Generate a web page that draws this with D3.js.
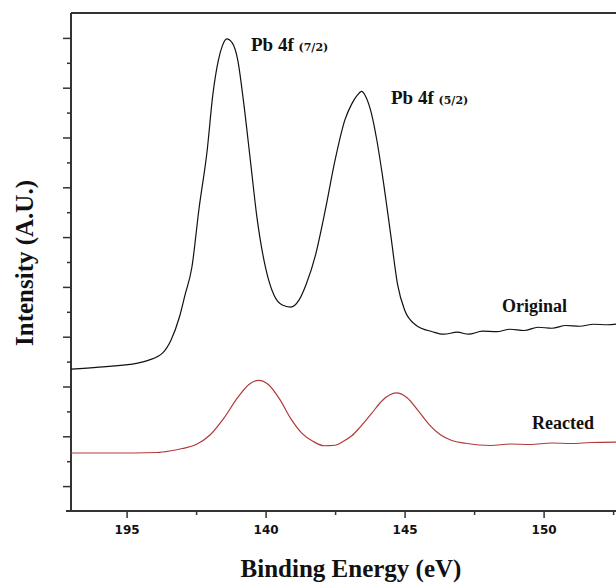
<!DOCTYPE html>
<html>
<head>
<meta charset="utf-8">
<script src="https://cdn.jsdelivr.net/npm/d3@7"></script>
<style>
  body { margin: 0; background: #fff; }
  svg { display: block; }
</style>
</head>
<body>
<div id="chart"></div>
<script>
// binding energy (eV) and intensity (a.u.)
const originalEnergy = [133.0, 134.0, 135.4, 135.8, 136.3, 136.6, 136.9, 137.1, 137.35, 137.6, 137.9, 138.1, 138.3, 138.45, 138.6, 138.8, 139.0, 139.2, 139.45, 139.7, 140.0, 140.3, 140.6, 140.9, 141.2, 141.45, 141.8, 142.15, 142.5, 142.85, 143.1, 143.3, 143.45, 143.6, 143.8, 144.0, 144.2, 144.5, 144.75, 145.0, 145.4, 146.0, 146.4, 146.9, 147.3, 147.8, 148.3, 148.8, 149.3, 149.8, 150.3, 150.8, 151.3, 151.8, 152.3, 152.9];
const originalIntensity = [5.70, 5.78, 5.94, 6.06, 6.35, 6.87, 7.79, 8.67, 9.80, 12.1, 14.5, 16.7, 18.1, 18.7, 18.96, 18.8, 18.1, 16.5, 14.1, 11.7, 9.76, 8.67, 8.27, 8.19, 8.47, 9.08, 10.3, 12.1, 14.1, 15.7, 16.35, 16.7, 16.85, 16.65, 16.0, 14.9, 13.5, 11.1, 9.08, 8.07, 7.47, 7.2, 7.1, 7.18, 7.1, 7.22, 7.2, 7.3, 7.25, 7.38, 7.34, 7.45, 7.42, 7.5, 7.48, 7.55];

const reactedEnergy = [133.0, 134.5, 136.1, 136.6, 137.0, 137.5, 138.0, 138.5, 139.0, 139.4, 139.75, 140.1, 140.5, 140.9, 141.3, 141.7, 142.1, 142.5, 142.8, 143.1, 143.4, 143.8, 144.2, 144.7, 145.1, 145.5, 145.9, 146.3, 146.7, 147.2, 148.1, 148.8, 149.5, 150.3, 151.0, 151.7, 152.9];
const reactedIntensity = [2.33, 2.33, 2.35, 2.42, 2.51, 2.67, 3.05, 3.73, 4.56, 5.08, 5.25, 5.08, 4.5, 3.72, 3.13, 2.8, 2.62, 2.64, 2.8, 3.02, 3.37, 3.9, 4.44, 4.74, 4.54, 4.01, 3.45, 3.05, 2.83, 2.72, 2.63, 2.69, 2.67, 2.73, 2.71, 2.75, 2.77];

const majorTicks = [135, 140, 145, 150];
const majorTickLabels = ["195", "140", "145", "150"];
const minorTicks = [137.5, 142.5, 147.5, 152.5];
const yMajorTicks = [1, 3, 5, 7, 9, 11, 13, 15, 17, 19];
const yMinorTicks = [2, 4, 6, 8, 10, 12, 14, 16, 18];

const W = 616, H = 583;
const plotLeft = 71, plotTop = 13, plotBottom = 511;

const svg = d3.select("#chart").append("svg")
    .attr("width", W)
    .attr("height", H);

const x = d3.scaleLinear().domain([133, 153]).range([plotLeft, plotLeft + 20 * 27.8]);
const y = d3.scaleLinear().domain([0, 20]).range([plotBottom, plotTop]);

const axisColor = "#333";

// minor ticks first, then the major ones with labels
svg.append("g")
    .attr("transform", "translate(0," + plotBottom + ")")
    .call(d3.axisBottom(x).tickValues(minorTicks).tickSize(4).tickFormat(""))
    .call(g => g.select(".domain").remove());

const xAxis = svg.append("g")
    .attr("transform", "translate(0," + plotBottom + ")")
    .call(d3.axisBottom(x).tickValues(majorTicks).tickSize(7).tickPadding(7)
        .tickFormat((d, i) => majorTickLabels[i]));
xAxis.select(".domain").remove();
xAxis.selectAll("text")
    .style("font-family", "'DejaVu Sans', sans-serif")
    .style("font-weight", "bold")
    .style("font-size", "12px")
    .attr("fill", "#111");

svg.append("g")
    .attr("transform", "translate(" + plotLeft + ",0)")
    .call(d3.axisLeft(y).tickValues(yMinorTicks).tickSize(4).tickFormat(""))
    .call(g => g.select(".domain").remove());

svg.append("g")
    .attr("transform", "translate(" + plotLeft + ",0)")
    .call(d3.axisLeft(y).tickValues(yMajorTicks).tickSize(8).tickFormat(""))
    .call(g => g.select(".domain").remove());

svg.selectAll(".tick line").attr("stroke", axisColor).attr("stroke-width", 1.5);

// frame: left, bottom and top (the right side is cut off)
svg.append("line").attr("x1", 66).attr("x2", W).attr("y1", plotBottom).attr("y2", plotBottom)
    .attr("stroke", axisColor).attr("stroke-width", 2);
svg.append("line").attr("x1", plotLeft).attr("x2", plotLeft).attr("y1", plotTop).attr("y2", plotBottom)
    .attr("stroke", axisColor).attr("stroke-width", 2);
svg.append("line").attr("x1", plotLeft).attr("x2", W).attr("y1", plotTop).attr("y2", plotTop)
    .attr("stroke", axisColor).attr("stroke-width", 2);

const line = d3.line()
    .x(d => x(d[0]))
    .y(d => y(d[1]))
    .curve(d3.curveMonotoneX);

svg.append("path")
    .datum(d3.zip(originalEnergy, originalIntensity))
    .attr("fill", "none")
    .attr("stroke", "#111")
    .attr("stroke-width", 1.2)
    .attr("d", line);

svg.append("path")
    .datum(d3.zip(reactedEnergy, reactedIntensity))
    .attr("fill", "none")
    .attr("stroke", "#b03a3a")
    .attr("stroke-width", 1.2)
    .attr("d", line);

const serif = "'Liberation Serif', 'Times New Roman', serif";

function peakLabel(px, py, sub) {
    const t = svg.append("text")
        .attr("x", px)
        .attr("y", py)
        .style("font-family", serif)
        .style("font-weight", "bold")
        .style("font-size", "19px")
        .attr("fill", "#111");
    t.append("tspan").text("Pb 4f ");
    t.append("tspan")
        .style("font-family", "'DejaVu Serif', serif")
        .style("font-size", "11px")
        .text(sub);
}
peakLabel(251, 51, "(7/2)");
peakLabel(391, 104, "(5/2)");

svg.append("text")
    .attr("x", 502).attr("y", 312)
    .style("font-family", serif).style("font-weight", "bold").style("font-size", "18px")
    .attr("fill", "#111")
    .text("Original");

svg.append("text")
    .attr("x", 532).attr("y", 429)
    .style("font-family", serif).style("font-weight", "bold").style("font-size", "18px")
    .attr("fill", "#111")
    .text("Reacted");

svg.append("text")
    .attr("x", 351).attr("y", 577)
    .attr("text-anchor", "middle")
    .style("font-family", serif).style("font-weight", "bold").style("font-size", "25px")
    .attr("fill", "#111")
    .text("Binding Energy (eV)");

svg.append("text")
    .attr("transform", "translate(33," + ((plotTop + plotBottom) / 2 + 1) + ") rotate(-90)")
    .attr("text-anchor", "middle")
    .style("font-family", serif).style("font-weight", "bold").style("font-size", "25px")
    .attr("fill", "#111")
    .text("Intensity (A.U.)");
</script>
</body>
</html>
